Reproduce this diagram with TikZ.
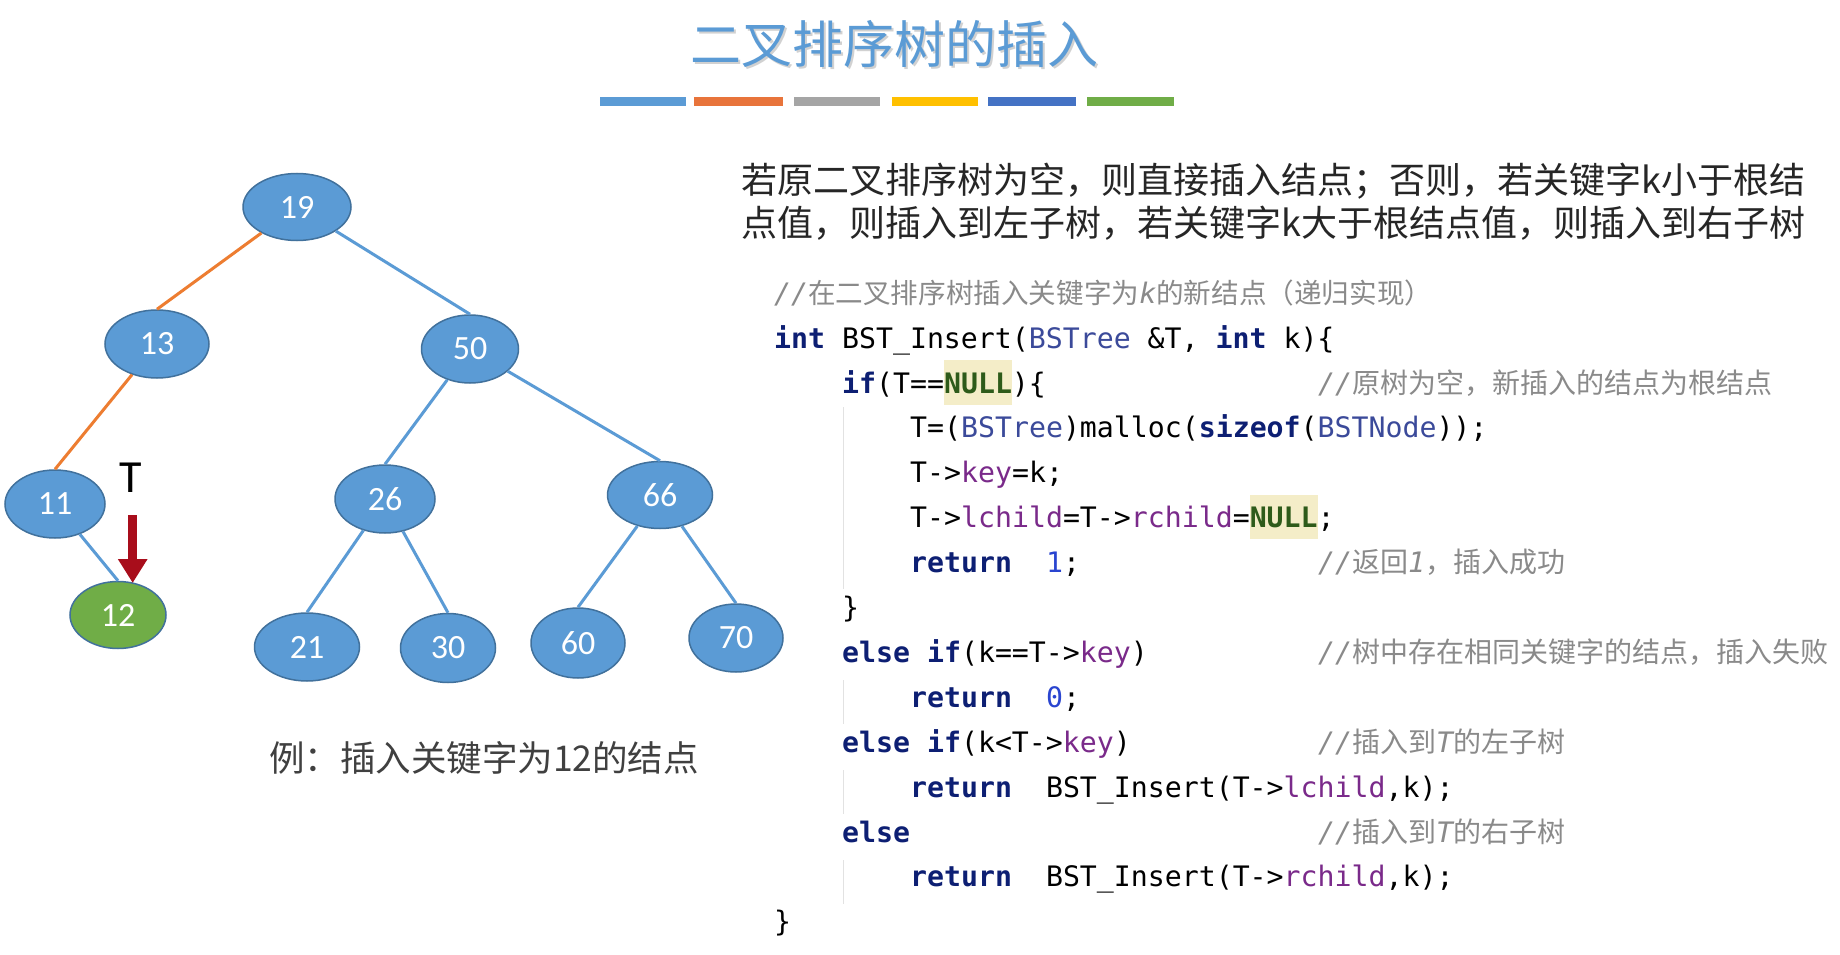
\documentclass[tikz,border=0pt]{standalone}
\usepackage{fontspec}
\usetikzlibrary{arrows.meta,shapes.geometric}
\setmainfont{Carlito}
\newfontfamily\zhfont{Noto Sans CJK SC}
\newfontfamily\codefont{DejaVu Sans Mono}
\newfontfamily\numfont{Carlito}
\newfontfamily\tfont{Carlito}
\definecolor{nodeb}{HTML}{5B9BD5}
\definecolor{nodeg}{HTML}{70AD47}
\definecolor{bordc}{HTML}{41719C}
\definecolor{edgeo}{HTML}{ED7D31}
\definecolor{barB}{HTML}{5B9BD5}
\definecolor{barO}{HTML}{E8743B}
\definecolor{barG}{HTML}{A5A5A5}
\definecolor{barY}{HTML}{FFC000}
\definecolor{barD}{HTML}{4472C4}
\definecolor{barL}{HTML}{70AD47}
\definecolor{titc}{HTML}{5B9BD5}
\definecolor{arrc}{HTML}{A80D1B}
\definecolor{kwc}{HTML}{0D1F73}
\definecolor{tyc}{HTML}{3B4A9A}
\definecolor{fdc}{HTML}{7A2A8A}
\definecolor{nulc}{HTML}{2E5B1A}
\definecolor{numc}{HTML}{2A45D0}
\definecolor{cmc}{HTML}{8A8A8A}
\definecolor{hlc}{HTML}{F4EDC8}
\definecolor{guidec}{HTML}{E2E2E2}
\definecolor{txtc}{HTML}{262626}
\newcommand\ckw[1]{{\color{kwc}\bfseries #1}}
\newcommand\cty[1]{{\color{tyc}#1}}
\newcommand\cfd[1]{{\color{fdc}#1}}
\newcommand\cnul[1]{{\color{nulc}\bfseries #1}}
\newcommand\cnum[1]{{\color{numc}#1}}
\newcommand\ccm[1]{{\color{cmc}\itshape #1}}
\newcommand\czh[1]{{\color{cmc}\zhfont\fontsize{28}{30}\selectfont #1}}
\newcommand\czhh[1]{{\color{cmc}\zhfont\fontsize{27.6}{30}\selectfont #1}}
\tikzset{
  tn/.style={ellipse, draw=bordc, line width=1.5pt, fill=nodeb, text=white,
    font=\numfont\fontsize{34}{34}\selectfont, inner sep=0pt,
    minimum width=100pt, minimum height=68pt},
  edgeb/.style={draw=nodeb, line width=3pt},
  edger/.style={draw=edgeo, line width=3pt},
  code/.style={anchor=base west, inner sep=0pt, text=black,
    font=\codefont\fontsize{28.2}{30}\selectfont},
  cmt/.style={anchor=base west, inner sep=0pt,
    font=\codefont\fontsize{28.2}{30}\selectfont},
  hl/.style={fill=hlc, draw=none},
  guide/.style={draw=guidec, line width=1.2pt},
  para/.style={anchor=base west, inner sep=0pt, text=txtc,
    font=\zhfont\fontsize{36}{40}\selectfont}
}
\begin{document}
\begin{tikzpicture}[x=1pt,y=-1pt]
\path[use as bounding box, fill=white] (0,0) rectangle (1840,955);
% title
\node[inner sep=0pt, text=black!18, font=\zhfont\fontsize{51}{56}\selectfont] (titsh) at (896.5,46.5) {二叉排序树的插入};
\node[inner sep=0pt, text=titc, font=\zhfont\fontsize{51}{56}\selectfont] (tit) at (894,44) {二叉排序树的插入};
% colour bars
\fill[barB] (600,97) rectangle (686,106);
\fill[barO] (694,97) rectangle (783,106);
\fill[barG] (794,97) rectangle (880,106);
\fill[barY] (892,97) rectangle (978,106);
\fill[barD] (988,97) rectangle (1076,106);
\fill[barL] (1087,97) rectangle (1174,106);
% tree nodes
\node[tn, minimum width=108pt, minimum height=67pt] (n19) at (297,207) {19};
\node[tn, minimum width=104pt, minimum height=68pt] (n13) at (157,344) {13};
\node[tn, minimum width=97pt, minimum height=68pt] (n50) at (470,349) {50};
\node[tn, minimum width=100pt, minimum height=68pt] (n11) at (55,504) {11};
\node[tn, minimum width=100pt, minimum height=68pt] (n26) at (385,499) {26};
\node[tn, minimum width=105pt, minimum height=67pt] (n66) at (660,495) {66};
\node[tn, fill=nodeg, minimum width=96pt, minimum height=67pt] (n12) at (118,615) {12};
\node[tn, minimum width=105pt, minimum height=68pt] (n21) at (307,647) {21};
\node[tn, minimum width=95pt, minimum height=69pt] (n30) at (448,648) {30};
\node[tn, minimum width=94pt, minimum height=70pt] (n60) at (578,643) {60};
\node[tn, minimum width=94pt, minimum height=68pt] (n70) at (736,638) {70};
% edges
\draw[edger] (n19) -- (n13.north);
\draw[edger] (n13) -- (n11.north);
\draw[edgeb] (n19) -- (n50.north);
\draw[edgeb] (n50) -- (n26.north);
\draw[edgeb] (n50) -- (n66.north);
\draw[edgeb] (n26) -- (n21.north);
\draw[edgeb] (n26) -- (n30.north);
\draw[edgeb] (n66) -- (n60.north);
\draw[edgeb] (n66) -- (n70.north);
\draw[edgeb] (n11) -- (n12.north);
% pointer T
\node[inner sep=0pt, text=black, font=\tfont\fontsize{46}{46}\selectfont] (tlab) at (131,478) {T};
\coordinate (ts) at (132.7,515);
\coordinate (te) at (132.7,583);
\draw[arrc, line width=9pt, -{Triangle[width=28pt,length=24pt]}] (ts) -- (te);
% caption
\node[inner sep=0pt, text=black!75, font=\zhfont\fontsize{35.5}{40}\selectfont] (cap) at (484,758) {例：插入关键字为12的结点};
% paragraph
\node[para] (p1) at (741,193.5) {若原二叉排序树为空，则直接插入结点；否则，若关键字k小于根结};
\node[para] (p2) at (741,236.5) {点值，则插入到左子树，若关键字k大于根结点值，则插入到右子树};
% code: baseline(i) = 303.2 + 44.9 i ; x(col) = 774 + 17 col
% highlights
\fill[hl] (944,360) rectangle (1012,405);
\fill[hl] (1250,495) rectangle (1318,539);
% indent guides
\draw[guide] (843.5,407) -- (843.5,589);
\draw[guide] (843.5,680) -- (843.5,724);
\draw[guide] (843.5,770) -- (843.5,814);
\draw[guide] (843.5,860) -- (843.5,904);
% code lines
\node[cmt] (c0) at (774,303.2) {\ccm{//}\czhh{在二叉排序树插入关键字为}\ccm{k}\czhh{的新结点（递归实现）}};
\node[code] (c1) at (774,348.1) {\ckw{int} BST\_Insert(\cty{BSTree} \&T, \ckw{int} k)\{};
\node[code] (c2) at (842,393.0) {\ckw{if}(T==\cnul{NULL})\{};
\node[cmt] (m2) at (1318,393.0) {\ccm{//}\czh{原树为空，新插入的结点为根结点}};
\node[code] (c3) at (910,437.9) {T=(\cty{BSTree})malloc(\ckw{sizeof}(\cty{BSTNode}));};
\node[code] (c4) at (910,482.8) {T->\cfd{key}=k;};
\node[code] (c5) at (910,527.7) {T->\cfd{lchild}=T->\cfd{rchild}=\cnul{NULL};};
\node[code] (c6) at (910,572.6) {\ckw{return}~~\cnum{1};};
\node[cmt] (m6) at (1318,572.6) {\ccm{//}\czh{返回}\ccm{1}\czh{，插入成功}};
\node[code] (c7) at (842,617.5) {\}};
\node[code] (c8) at (842,662.4) {\ckw{else} \ckw{if}(k==T->\cfd{key})};
\node[cmt] (m8) at (1318,662.4) {\ccm{//}\czh{树中存在相同关键字的结点，插入失败}};
\node[code] (c9) at (910,707.3) {\ckw{return}~~\cnum{0};};
\node[code] (c10) at (842,752.2) {\ckw{else} \ckw{if}(k<T->\cfd{key})};
\node[cmt] (m10) at (1318,752.2) {\ccm{//}\czh{插入到}\ccm{T}\czh{的左子树}};
\node[code] (c11) at (910,797.1) {\ckw{return}~~BST\_Insert(T->\cfd{lchild},k);};
\node[code] (c12) at (842,842.0) {\ckw{else}};
\node[cmt] (m12) at (1318,842.0) {\ccm{//}\czh{插入到}\ccm{T}\czh{的右子树}};
\node[code] (c13) at (910,886.9) {\ckw{return}~~BST\_Insert(T->\cfd{rchild},k);};
\node[code] (c14) at (774,931.8) {\}};
\end{tikzpicture}
\end{document}
